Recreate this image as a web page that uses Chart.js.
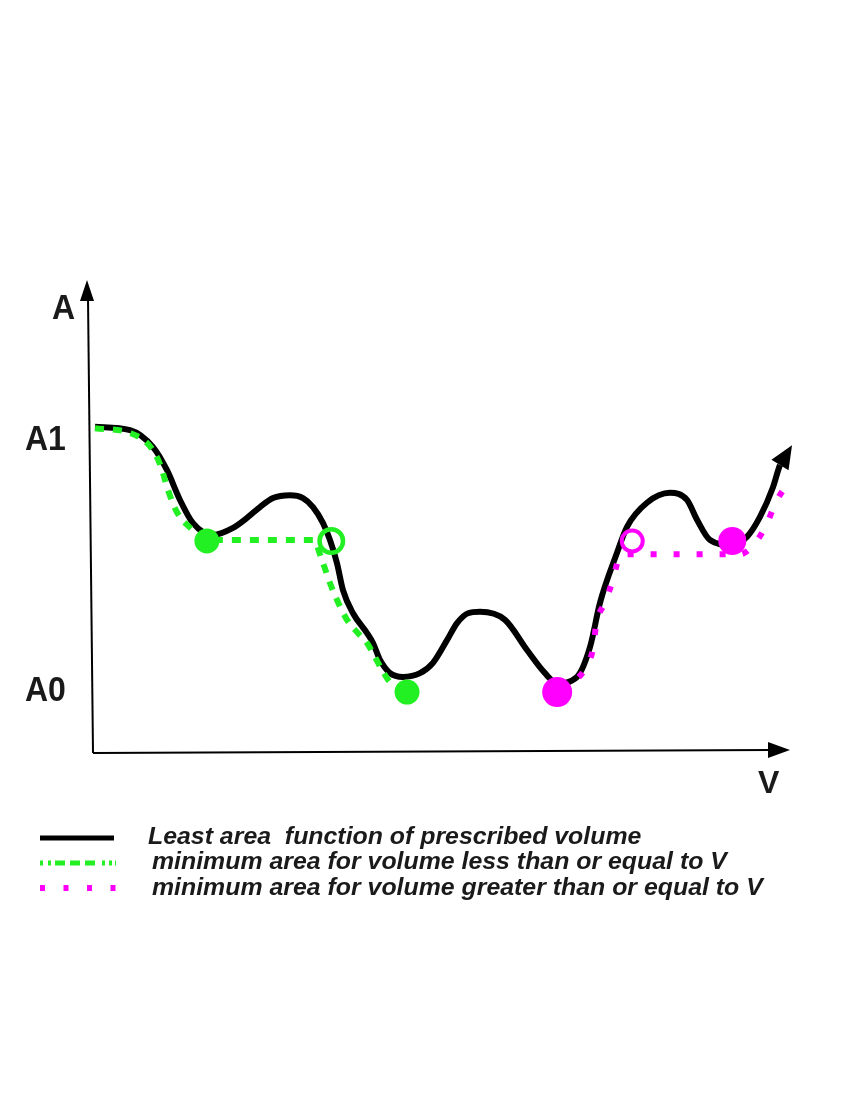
<!DOCTYPE html>
<html>
<head>
<meta charset="utf-8">
<script src="https://cdn.jsdelivr.net/npm/chart.js@4/dist/chart.umd.min.js"></script>
<style>
html,body{margin:0;padding:0;background:#fff;}
#wrap{position:relative;width:850px;height:1100px;overflow:hidden;}
#c{position:absolute;left:0;top:0;}
.lbl{position:absolute;font-family:"Liberation Sans",Arial,sans-serif;font-weight:bold;color:#1a1a1a;white-space:pre;line-height:1;}
.ax{font-size:32px;transform:scaleY(1.08);transform-origin:left top;}
.leg{font-size:24.5px;font-style:italic;transform:scaleX(1.015);transform-origin:left top;}
</style>
</head>
<body>
<div id="wrap">
<canvas id="c" width="850" height="1100"></canvas>
<div class="lbl ax" style="left:52px;top:290px;">A</div>
<div class="lbl ax" style="left:25px;top:421px;">A1</div>
<div class="lbl ax" style="left:25px;top:672px;">A0</div>
<div class="lbl ax" style="left:758px;top:766px;transform:none;">V</div>
<div class="lbl leg" style="left:148px;top:824px;">Least area  function of prescribed volume</div>
<div class="lbl leg" style="left:152px;top:849px;">minimum area for volume less than or equal to V</div>
<div class="lbl leg" style="left:152px;top:875px;">minimum area for volume greater than or equal to V</div>
</div>
<script>
// Least area as a function of prescribed volume (schematic units 0..100); last point is the arrow tip
const curveV = [0,5.04,8.35,10.36,12.23,14.10,16.98,19.86,21.87,23.74,25.61,28.06,29.93,31.37,32.81,33.81,34.82,35.68,37.12,39.14,40.00,41.01,42.45,44.32,46.76,48.63,50.65,52.09,53.67,55.40,58.99,62.16,64.75,66.47,69.35,71.22,72.66,75.11,76.55,79.42,82.73,85.18,86.62,88.49,91.37,93.81,95.68,97.55,98.56,100.29];
const curveA = [68.9,68.2,64.6,59.7,53.4,48.5,46.0,47.5,49.6,51.9,53.8,54.4,53.8,51.9,48.5,44.9,40.0,34.3,29.4,25.2,23.1,19.5,16.7,15.9,16.7,18.9,23.7,27.3,29.4,29.7,28.0,21.6,16.7,14.6,15.9,22.2,31.6,42.2,47.7,52.8,54.9,53.4,49.2,44.9,43.9,45.6,49.8,56.1,60.8,65.0];
// minimum area for volume <= V
const lessV = [0,5.0,7.9,9.4,10.5,11.8,13.7,16.1,31.37,32.81,33.81,34.82,36.26,37.70,39.14,40.29,41.29,42.45,44.9];
const lessA = [68.6,67.6,64.8,60.8,55.5,50.8,47.5,44.9,44.9,40.0,35.8,32.2,28.0,25.4,23.1,20.1,17.4,14.8,12.9];
// minimum area for volume >= V
const greaterV = [66.9,69.5,70.8,71.7,72.1,73.4,74.5,75.4,75.8,92.8,95.3,96.7,98.0,100.0];
const greaterA = [13.1,15.7,18.4,22.2,26.9,31.8,36.4,41.3,41.9,41.9,44.9,48.5,53.0,57.6];
// marked points
const lessFilledV = [16.1,44.9];
const lessFilledA = [44.7,12.7];
const lessOpenV = [34.0];
const lessOpenA = [44.7];
const greaterFilledV = [66.5,91.7];
const greaterFilledA = [12.7,44.7];
const greaterOpenV = [77.3];
const greaterOpenA = [44.7];
// legend labels
const legendLabels = ['Least area  function of prescribed volume','minimum area for volume less than or equal to V','minimum area for volume greater than or equal to V'];

const GREEN = '#22f022';
const MAGENTA = '#ff00ff';
const pts = (xs, ys) => xs.map((x, i) => ({x: x, y: ys[i]}));
const lastCurveSeg = curveV.length - 1;

const axesPlugin = {
  id: 'axesArrows',
  beforeDatasetsDraw(chart) {
    const ctx = chart.ctx, xs = chart.scales.x, ys = chart.scales.y;
    const ox = xs.getPixelForValue(0) - 2, oy = ys.getPixelForValue(0) + 1;
    const topY = ys.getPixelForValue(100), rightX = xs.getPixelForValue(100);
    ctx.save();
    ctx.strokeStyle = '#000'; ctx.fillStyle = '#000'; ctx.lineWidth = 2;
    ctx.beginPath(); ctx.moveTo(ox, oy); ctx.lineTo(ox - 5, topY + 18); ctx.stroke();
    ctx.beginPath(); ctx.moveTo(ox - 6, topY); ctx.lineTo(ox - 13, topY + 21); ctx.lineTo(ox + 1, topY + 21); ctx.closePath(); ctx.fill();
    ctx.beginPath(); ctx.moveTo(ox, oy); ctx.lineTo(rightX - 20, oy - 3); ctx.stroke();
    ctx.beginPath(); ctx.moveTo(rightX, oy - 3); ctx.lineTo(rightX - 22, oy - 11); ctx.lineTo(rightX - 22, oy + 5); ctx.closePath(); ctx.fill();
    ctx.restore();
  },
  afterDatasetsDraw(chart) {
    const idx = chart.data.datasets.findIndex(d => d.id === 'curve');
    const meta = chart.getDatasetMeta(idx);
    const tip = meta.data[meta.data.length - 1];
    const base = meta.data[meta.data.length - 2];
    let dx = tip.x - base.x, dy = tip.y - base.y;
    const len = Math.hypot(dx, dy) || 1; dx /= len; dy /= len;
    const W = 10;
    const bx = tip.x - dx * len, by = tip.y - dy * len;
    const ctx = chart.ctx;
    ctx.save(); ctx.fillStyle = '#000';
    ctx.beginPath();
    ctx.moveTo(tip.x, tip.y);
    ctx.lineTo(bx - dy * W, by + dx * W);
    ctx.lineTo(bx + dy * W, by - dx * W);
    ctx.closePath(); ctx.fill();
    ctx.restore();
  },
  afterDraw(chart) {
    const ctx = chart.ctx;
    ctx.save();
    ctx.lineCap = 'butt';
    ctx.strokeStyle = '#000'; ctx.lineWidth = 5; ctx.setLineDash([]);
    ctx.beginPath(); ctx.moveTo(40, 838); ctx.lineTo(114, 838); ctx.stroke();
    ctx.strokeStyle = GREEN; ctx.lineWidth = 5;
    ctx.setLineDash([3,5,3,4,10,5,10,5,10,7,3,4,3,3,2,100]);
    ctx.beginPath(); ctx.moveTo(40, 863); ctx.lineTo(116, 863); ctx.stroke();
    ctx.strokeStyle = MAGENTA; ctx.lineWidth = 6;
    ctx.setLineDash([5,18.5]);
    ctx.beginPath(); ctx.moveTo(40, 888); ctx.lineTo(116, 888); ctx.stroke();
    ctx.restore();
  }
};

new Chart(document.getElementById('c'), {
  type: 'scatter',
  data: {
    datasets: [
      {label: 'lessFilled', data: pts(lessFilledV, lessFilledA), pointRadius: 12.5, pointBackgroundColor: GREEN, pointBorderWidth: 0, showLine: false, order: 0, clip: false},
      {label: 'lessOpen', data: pts(lessOpenV, lessOpenA), pointRadius: 11.75, pointBackgroundColor: 'rgba(0,0,0,0)', pointBorderColor: GREEN, pointBorderWidth: 4.5, showLine: false, order: 0, clip: false},
      {label: 'greaterFilled', data: pts(greaterFilledV, greaterFilledA), pointRadius: [15, 14], pointBackgroundColor: MAGENTA, pointBorderWidth: 0, showLine: false, order: 0, clip: false},
      {label: 'greaterOpen', data: pts(greaterOpenV, greaterOpenA), pointRadius: 10.5, pointBackgroundColor: 'rgba(0,0,0,0)', pointBorderColor: MAGENTA, pointBorderWidth: 4, showLine: false, order: 0, clip: false},
      {label: legendLabels[1], data: pts(lessV, lessA), showLine: true, borderColor: GREEN, borderWidth: 6, borderDash: [9, 9], borderCapStyle: 'butt', cubicInterpolationMode: 'monotone', pointRadius: 0, order: 1, clip: false},
      {label: legendLabels[2], data: pts(greaterV, greaterA), showLine: true, borderColor: MAGENTA, borderWidth: 6, borderDash: [6, 17], borderCapStyle: 'butt', cubicInterpolationMode: 'monotone', pointRadius: 0, order: 1, clip: false},
      {id: 'curve', label: legendLabels[0], data: pts(curveV, curveA), showLine: true, borderColor: '#000', borderWidth: 6, cubicInterpolationMode: 'monotone', borderJoinStyle: 'round', pointRadius: 0, order: 2, clip: false,
       segment: {borderColor: c => c.p1DataIndex === lastCurveSeg ? 'rgba(0,0,0,0)' : undefined}}
    ]
  },
  options: {
    responsive: false,
    animation: false,
    devicePixelRatio: 1,
    layout: {padding: {left: 95, right: 60, top: 280, bottom: 348}},
    scales: {
      x: {type: 'linear', min: 0, max: 100, display: false},
      y: {type: 'linear', min: 0, max: 100, display: false}
    },
    plugins: {legend: {display: false}, tooltip: {enabled: false}}
  },
  plugins: [axesPlugin]
});
</script>
</body>
</html>
